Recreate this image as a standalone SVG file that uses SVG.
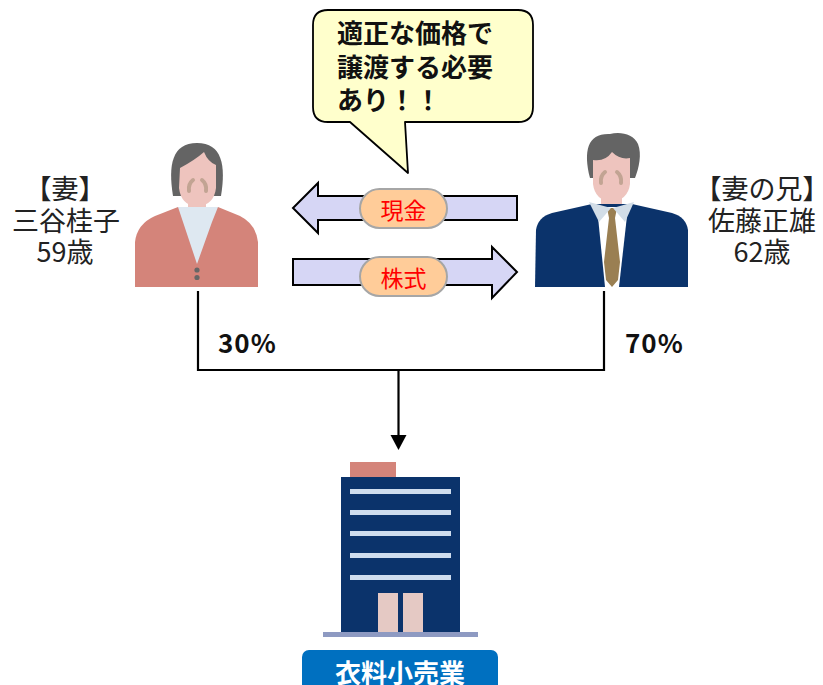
<svg xmlns="http://www.w3.org/2000/svg" width="823" height="685" viewBox="0 0 823 685">
  <style>
    .jp { font-family: "Noto Sans CJK JP", "Noto Sans", sans-serif; }
    .name { font-size: 27px; fill: #222; text-anchor: middle; }
    .pct { font-size: 26px; font-weight: bold; fill: #111; letter-spacing: 1px; }
    .bubble { font-size: 26px; font-weight: bold; fill: #111; }
    .tag { font-size: 23px; fill: #FF0000; text-anchor: middle; dominant-baseline: central; }
    .arrow { fill: #D6D6F5; stroke: #000; stroke-width: 2; stroke-linejoin: miter; }
    .pill { fill: #FFCC99; stroke: #A6A6A6; stroke-width: 2; }
    .line { fill: none; stroke: #000; stroke-width: 2.2; }
    .cheek { fill: none; stroke: #C2A493; stroke-width: 4; stroke-linecap: round; }
  </style>
  <rect width="823" height="685" fill="#fff"/>

  <!-- connectors: ownership lines into the company -->
  <g id="connectors">
    <polyline class="line" points="198,291 198,370 604,370 604,291"/>
    <line class="line" x1="398.5" y1="370" x2="398.5" y2="436"/>
    <path d="M390.5,435 L406.5,435 L398.5,450 Z" fill="#000"/>
  </g>

  <!-- percentages -->
  <g id="pct-wife"><text class="jp pct" x="218" y="353">30%</text></g>
  <g id="pct-brother"><text class="jp pct" x="625" y="353">70%</text></g>

  <!-- speech bubble -->
  <g id="bubble">
    <path d="M328,10 L518,10 Q533,10 533,25 L533,107 Q533,122 518,122 L405,122 L408,173 L350,122 L328,122 Q313,122 313,107 L313,25 Q313,10 328,10 Z" fill="#FFFFCC" stroke="#000" stroke-width="1.8" stroke-linejoin="round"/>
    <text class="jp bubble" x="337" y="43">適正な価格で</text>
    <text class="jp bubble" x="337" y="77">譲渡する必要</text>
    <text class="jp bubble" x="337" y="110">あり！！</text>
  </g>

  <!-- cash arrow (right to left) -->
  <g id="cash">
    <path class="arrow" d="M517,196 L517,220 L318,220 L318,233 L293,208 L318,183 L318,196 Z"/>
    <rect class="pill" x="360" y="189" width="87" height="39" rx="19.5"/>
    <text class="jp tag" x="403.5" y="208.5">現金</text>
  </g>

  <!-- shares arrow (left to right) -->
  <g id="shares">
    <path class="arrow" d="M293,259 L492,259 L492,247 L517,272 L492,298 L492,285 L293,285 Z"/>
    <rect class="pill" x="360" y="257" width="87" height="39" rx="19.5"/>
    <text class="jp tag" x="403.5" y="276.5">株式</text>
  </g>

  <!-- wife -->
  <g id="wife">
    <path d="M173,196 C168,165 172,143 197,143 C222,143 226,165 221,196 Z" fill="#646464"/>
    <rect x="188" y="192" width="18" height="22" fill="#EEC4BE"/>
    <path d="M180,168 Q195,160 204,152 Q208,162 216,165 L216,188 Q214,205 197,207 Q181,205 179,188 Z" fill="#EEC4BE"/>
    <path class="cheek" d="M193,180 Q188,184 189,191"/>
    <path class="cheek" d="M202,180 Q207,184 206,191"/>
    <path d="M135,287 L135,242 Q137,224 155,216 L178,207 L218,207 L240,216 Q256,224 258,242 L258,287 Z" fill="#D4847A"/>
    <path d="M178,207 L218,207 L212,222 L197,264 L183,222 Z" fill="#DEE8F1"/>
    <circle cx="197" cy="270" r="2.6" fill="#666"/>
    <circle cx="197" cy="277.5" r="2.6" fill="#666"/>
  </g>
  <g id="wife-label" class="jp name">
    <text x="65" y="199">【妻】</text>
    <text x="66" y="231">三谷桂子</text>
    <text x="65" y="262">59歳</text>
  </g>

  <!-- wife's brother -->
  <g id="brother">
    <path d="M590,178 C583,150 588,133 610,134 C620,131 634,134 638,144 C642,154 639,168 635,178 Z" fill="#646464"/>
    <rect x="601" y="190" width="21" height="20" fill="#EEC4BE"/>
    <path d="M593,160 Q605,162 612,152 Q620,160 630,158 L630,184 Q628,200 611,202 Q595,200 593,184 Z" fill="#EEC4BE"/>
    <path class="cheek" d="M605,172 Q600,176 601,183"/>
    <path class="cheek" d="M617,172 Q622,176 621,183"/>
    <path d="M535,287 L536,230 Q538,217 552,213 L592,204 L632,204 L672,213 Q686,217 688,230 L688,287 Z" fill="#0B336B"/>
    <path d="M597,207 L628,207 L619,287 L605,287 Z" fill="#FFFFFF"/>
    <path d="M607,208 L617,208 L615,218 L620,262 L618,280 L612,287 L606,280 L604,262 L609,218 Z" fill="#9A7F52"/>
    <path d="M589,202 L611,208 L599,222 Z" fill="#D2DDE7"/>
    <path d="M634,202 L613,208 L625,222 Z" fill="#D2DDE7"/>
  </g>
  <g id="brother-label" class="jp name">
    <text x="762" y="199">【妻の兄】</text>
    <text x="762" y="231">佐藤正雄</text>
    <text x="762" y="262">62歳</text>
  </g>

  <!-- company building -->
  <g id="company">
    <rect x="350" y="462" width="46" height="15" fill="#D4847A"/>
    <rect x="341" y="477" width="119" height="155" fill="#0B336B"/>
    <g fill="#CFDDEE">
      <rect x="350" y="489" width="101" height="5"/>
      <rect x="350" y="510" width="101" height="5"/>
      <rect x="350" y="531" width="101" height="5"/>
      <rect x="350" y="553" width="101" height="5"/>
      <rect x="350" y="575" width="101" height="5"/>
    </g>
    <rect x="378" y="593" width="20" height="39" fill="#E5C9C4"/>
    <rect x="403" y="593" width="20" height="39" fill="#E5C9C4"/>
    <rect x="323" y="632" width="155" height="5" fill="#8E9AC2"/>
    <rect x="302" y="650" width="196" height="45" rx="7" fill="#0070C0"/>
    <text class="jp" x="400" y="671" font-size="26" font-weight="bold" fill="#fff" text-anchor="middle" dominant-baseline="central">衣料小売業</text>
  </g>
</svg>
